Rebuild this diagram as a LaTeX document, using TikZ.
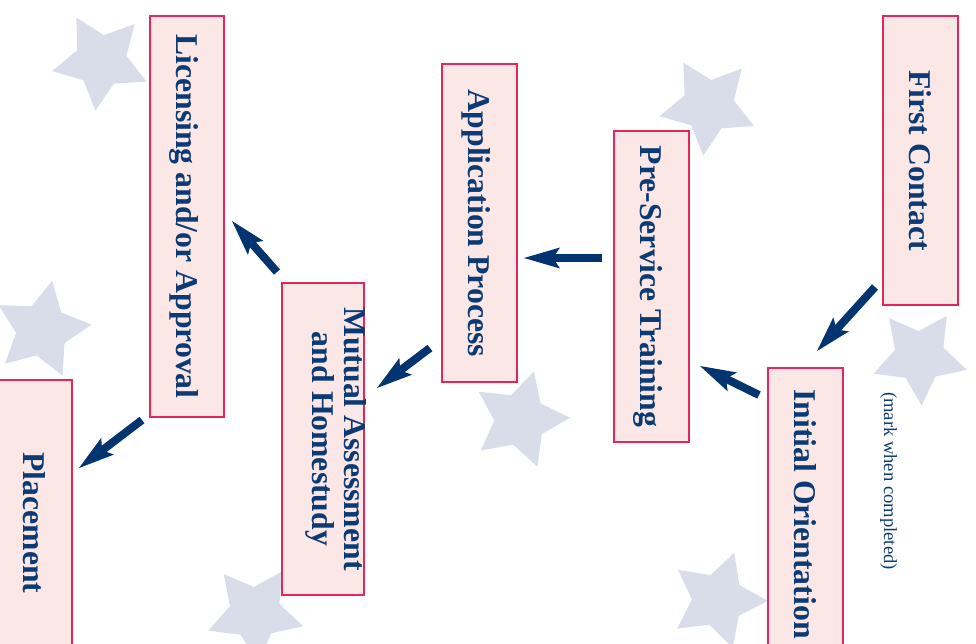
\documentclass[tikz,border=0pt]{standalone}
\usepackage{fontspec}
\setmainfont{Liberation Serif}
\usetikzlibrary{arrows.meta}
\definecolor{navy}{HTML}{0B3A75}
\definecolor{arrowcol}{HTML}{02356F}
\definecolor{boxline}{HTML}{E3265C}
\definecolor{boxfill}{HTML}{FBE7E5}
\definecolor{starfill}{HTML}{D9DDE9}
\newcommand\bgstar[4]{\fill[starfill,shift={(#1,#2)}] (#4:#3) -- ({#4+36}:{#3*0.52}) -- ({#4+72}:#3) -- ({#4+108}:{#3*0.52}) -- ({#4+144}:#3) -- ({#4+180}:{#3*0.52}) -- ({#4+216}:#3) -- ({#4+252}:{#3*0.52}) -- ({#4+288}:#3) -- ({#4+324}:{#3*0.52}) -- cycle;}
\tikzset{
  stepbox/.style={draw=boxline, fill=boxfill, line width=1.3pt, rotate=-90, inner sep=0pt,
    text=navy, font=\fontsize{31.7}{32}\selectfont\bfseries, align=center,
    text height=22pt, text depth=0pt, minimum height=75pt},
  flow/.style={draw=arrowcol, line width=8pt,
    -{Stealth[length=36pt,width=21pt,inset=7pt,line width=0pt]}},
  note/.style={rotate=-90, text=navy, font=\fontsize{18.6}{20}\selectfont, inner sep=0pt}
}
\begin{document}
\begin{tikzpicture}[x=1pt,y=-1pt]
\clip (0,0) rectangle (976,644);
% background stars
\bgstar{101}{61}{50}{240.4}
\bgstar{42}{330}{50}{281.8}
\bgstar{708.4}{105.8}{50}{239.9}
\bgstar{520.2}{419.6}{50}{285.9}
\bgstar{919.6}{356.6}{49}{231.6}
\bgstar{718}{600}{50}{289}
\bgstar{255}{613}{50}{231.3}
% boxes
\node[stepbox, minimum width=289pt] (fc) at (920.5,160.5) {First Contact};
\node[stepbox, minimum width=292pt] (io) at (805.5,514) {Initial Orientation};
\node[stepbox, minimum width=311pt] (pst) at (651.5,286.5) {Pre-Service Training};
\node[stepbox, minimum width=318pt] (ap) at (479.5,223) {Application Process};
\node[stepbox, minimum width=312pt, minimum height=82pt] (ma) at (323,439) {Mutual Assessment\\and Homestudy};
\node[stepbox, minimum width=401pt, minimum height=74pt] (la) at (187,216.5) {Licensing and/or Approval};
\node[stepbox, minimum width=286pt] (pl) at (34.5,523) {Placement};
\node[note, anchor=base] (mk) at (884,481) {(mark when completed)};
% arrows
\coordinate (a1s) at (875,287); \coordinate (a1e) at (817,351);
\coordinate (a2s) at (759,395); \coordinate (a2e) at (700,366);
\coordinate (a3s) at (602,258); \coordinate (a3e) at (524,258);
\coordinate (a4s) at (430,348); \coordinate (a4e) at (377,388);
\coordinate (a5s) at (277,272); \coordinate (a5e) at (232,221);
\coordinate (a6s) at (142,420); \coordinate (a6e) at (79,468);
\draw[flow] (a1s) -- (a1e);
\draw[flow] (a2s) -- (a2e);
\draw[flow] (a3s) -- (a3e);
\draw[flow] (a4s) -- (a4e);
\draw[flow] (a5s) -- (a5e);
\draw[flow] (a6s) -- (a6e);
\end{tikzpicture}
\end{document}
